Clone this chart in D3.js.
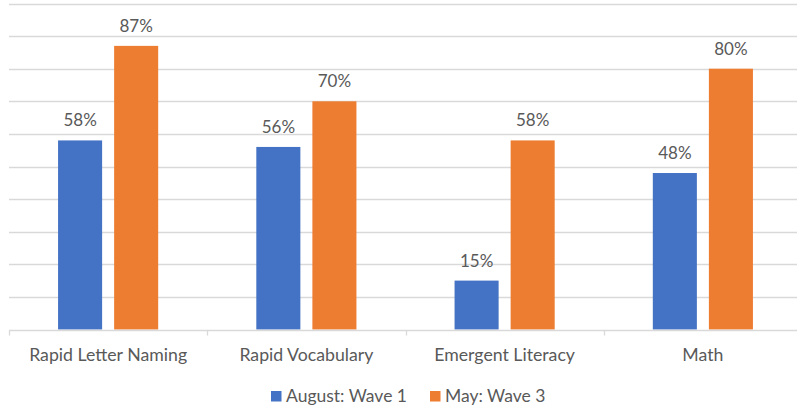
<!DOCTYPE html>
<html><head><meta charset="utf-8">
<script src="https://cdn.jsdelivr.net/npm/d3@7"></script>
<style>body{margin:0;background:#fff}svg{display:block}text{font-family:Lato,"Open Sans",sans-serif;fill:#595959}</style>
</head><body><svg id="c" width="797" height="410"></svg>
<script>
const categories = ["Rapid Letter Naming","Rapid Vocabulary","Emergent Literacy","Math"];
const seriesNames = ["August: Wave 1","May: Wave 3"];
const wave1 = [58,56,15,48];
const wave3 = [87,70,58,80];
const yTicks = [0,10,20,30,40,50,60,70,80,90,100];
const colors = ["#4472c4","#ed7d31"];

(function(){
const svg = d3.select("#c");
const pL = 9, pR = 802, pT = 3.5, pB = 329.5;
const x = d3.scaleBand().domain(categories).range([pL, pR]).paddingInner(0).paddingOuter(0);
const bw = x.bandwidth();
const barW = bw*44/198, gap = bw*12/198;
const inner = d3.scaleOrdinal().domain(seriesNames).range([bw/2 - gap/2 - barW, bw/2 + gap/2]);
const y = d3.scaleLinear().domain([0,100]).range([pB, pT]);

svg.append("g").selectAll("line").data(yTicks.filter(t=>t>0)).join("line")
  .attr("x1", pL).attr("x2", 797).attr("y1", d=>Math.round(y(d))+0.5).attr("y2", d=>Math.round(y(d))+0.5)
  .attr("stroke","#d9d9d9").attr("stroke-width",1.3);

const data = [];
categories.forEach((c,i)=>{
  data.push({c, s:seriesNames[0], v:wave1[i], col:colors[0]});
  data.push({c, s:seriesNames[1], v:wave3[i], col:colors[1]});
});

svg.append("g").selectAll("rect").data(data).join("rect")
  .attr("x", d=>x(d.c)+inner(d.s)).attr("width", barW)
  .attr("y", d=>y(d.v)).attr("height", d=>pB - y(d.v))
  .attr("fill", d=>d.col);

svg.append("g").selectAll("text").data(data).join("text")
  .attr("x", d=>x(d.c)+inner(d.s)+barW/2).attr("y", d=>y(d.v)-14)
  .attr("text-anchor","middle").attr("font-size",17)
  .text(d=>d.v+"%");

const axis = svg.append("g").attr("transform",`translate(0,${Math.round(pB)+0.5})`);
axis.append("line").attr("x1",pL).attr("x2",797).attr("stroke","#d9d9d9").attr("stroke-width",1.3);
axis.selectAll("line.tick").data(categories.concat(["end"])).join("line").attr("class","tick")
  .attr("x1",(d,i)=>Math.round(pL+i*bw)+0.5).attr("x2",(d,i)=>Math.round(pL+i*bw)+0.5)
  .attr("y1",0).attr("y2",5).attr("stroke","#d9d9d9").attr("stroke-width",1.3);
axis.selectAll("text").data(categories).join("text")
  .attr("x", d=>x(d)+bw/2).attr("y", 30).attr("text-anchor","middle").attr("font-size",17.7)
  .text(d=>d);

const leg = svg.append("g");
const legItems = [{n:seriesNames[0], c:colors[0], x:271},{n:seriesNames[1], c:colors[1], x:430}];
leg.selectAll("rect").data(legItems).join("rect")
  .attr("x",d=>d.x).attr("y",391).attr("width",10.5).attr("height",10.5).attr("fill",d=>d.c);
leg.selectAll("text").data(legItems).join("text")
  .attr("x",d=>d.x+15).attr("y",402).attr("font-size",17.5).text(d=>d.n);
})();
</script></body></html>
